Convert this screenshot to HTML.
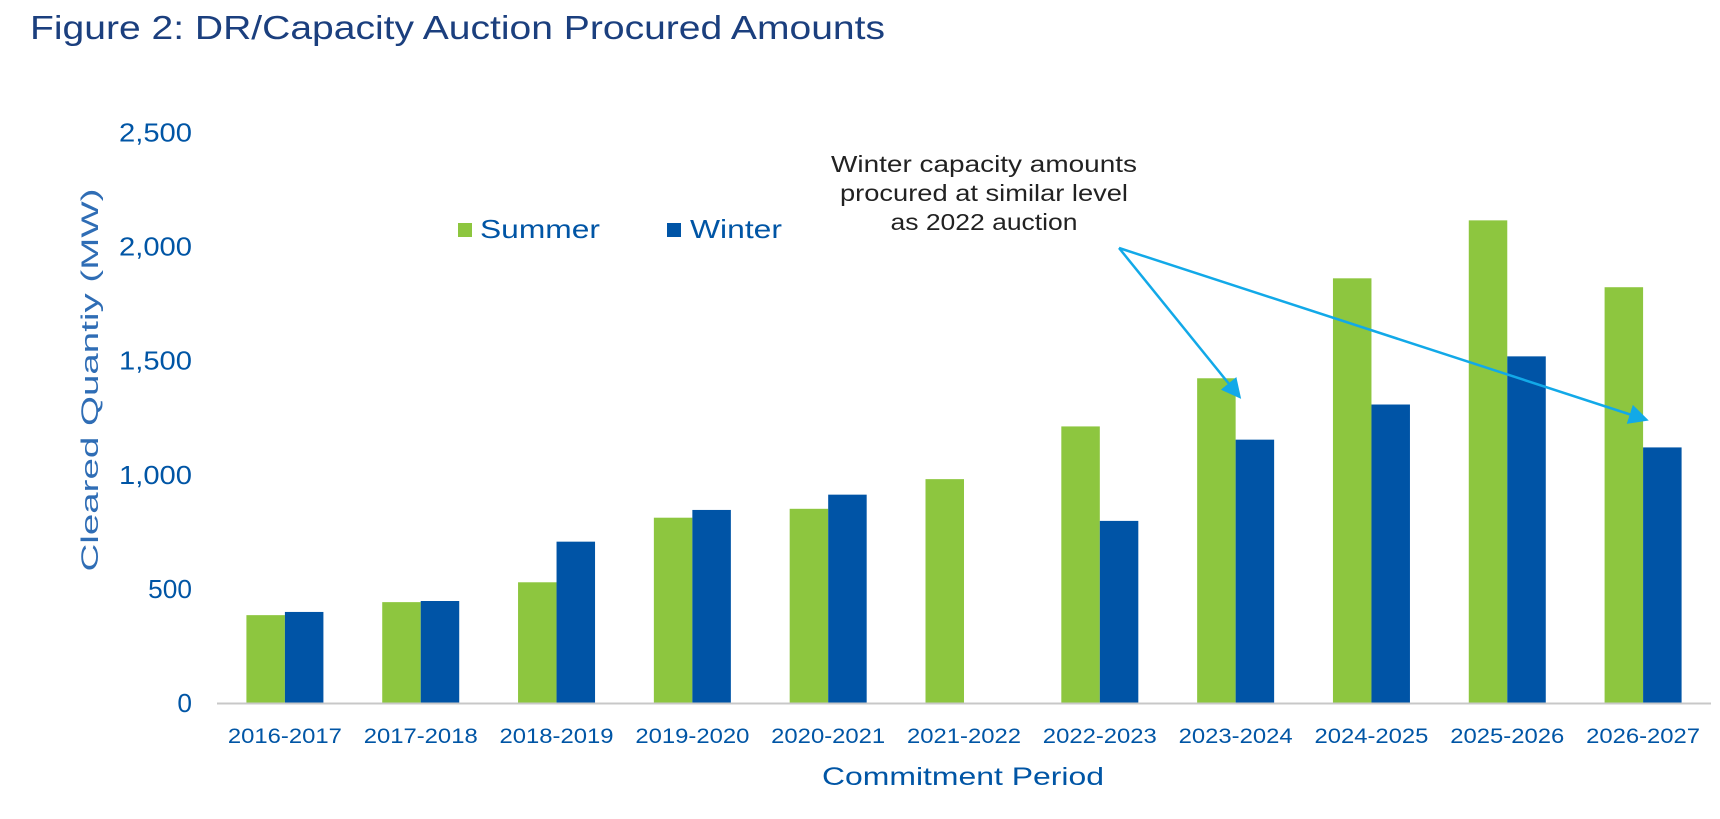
<!DOCTYPE html>
<html><head><meta charset="utf-8"><style>
body{margin:0;background:#fff;width:1720px;height:814px;overflow:hidden;font-family:"Liberation Sans",sans-serif}
</style></head><body>
<svg width="1720" height="814" font-family="Liberation Sans, sans-serif">
<text x="30" y="39" font-size="33" fill="#1b3f7e" textLength="855" lengthAdjust="spacingAndGlyphs">Figure 2: DR/Capacity Auction Procured Amounts</text>
<g id="yticks"></g><g id="bars"></g><g id="xlabels"></g>
<line x1="217" y1="703.5" x2="1711" y2="703.5" stroke="#c8c8c8" stroke-width="2"/>
<text transform="translate(98,380) rotate(-90)" text-anchor="middle" font-size="24" fill="#2f6db5" textLength="383" lengthAdjust="spacingAndGlyphs">Cleared Quantiy (MW)</text>
<text x="963" y="785" text-anchor="middle" font-size="25" fill="#0055a5" textLength="282" lengthAdjust="spacingAndGlyphs">Commitment Period</text>
<g>
<rect x="458" y="223" width="14" height="14" fill="#8dc63f"/>
<text x="480" y="238" font-size="26" fill="#0055a5" textLength="120" lengthAdjust="spacingAndGlyphs">Summer</text>
<rect x="667" y="223" width="14" height="14" fill="#0054a6"/>
<text x="690" y="238" font-size="26" fill="#0055a5" textLength="92" lengthAdjust="spacingAndGlyphs">Winter</text>
</g>
<g font-size="23" fill="#222" text-anchor="middle">
<text x="984" y="172" textLength="306" lengthAdjust="spacingAndGlyphs">Winter capacity amounts</text>
<text x="984" y="201" textLength="288" lengthAdjust="spacingAndGlyphs">procured at similar level</text>
<text x="984" y="230" textLength="187" lengthAdjust="spacingAndGlyphs">as 2022 auction</text>
</g>
<defs><marker id="ah" markerWidth="8" markerHeight="8" refX="6" refY="4" orient="auto" markerUnits="strokeWidth"><path d="M0,0 L8,4 L0,8 z" fill="#12a9e8"/></marker></defs>
<line x1="1119" y1="248" x2="1238" y2="395" stroke="#12a9e8" stroke-width="2.5" marker-end="url(#ah)"/>
<line x1="1119" y1="248" x2="1644" y2="419" stroke="#12a9e8" stroke-width="2.5" marker-end="url(#ah)"/>
</svg>
<script>
const categories=["2016-2017","2017-2018","2018-2019","2019-2020","2020-2021","2021-2022","2022-2023","2023-2024","2024-2025","2025-2026","2026-2027"];
const summer=[385,442,529,812,851,981,1212,1423,1861,2115,1822];
const winter=[399,447,707,846,913,0,798,1154,1308,1519,1120];
const yTicks=[0,500,1000,1500,2000,2500];
const yTickLabels=["0","500","1,000","1,500","2,000","2,500"];
const NS="http://www.w3.org/2000/svg";
const x0=217,x1=1711,yBase=703,pxPer=114.1/500;
const bw=(x1-x0)/categories.length, barW=38.5;
const y=v=>yBase-v*pxPer;
function mk(t,a,p){const e=document.createElementNS(NS,t);for(const k in a)e.setAttribute(k,a[k]);p.appendChild(e);return e;}
const yt=document.getElementById('yticks');
yTicks.forEach((v,i)=>{const L=yTickLabels[i];const t=mk('text',{x:192,y:y(v)+9,'text-anchor':'end','font-size':'26',fill:'#0055a5',textLength:L.length*14.6,lengthAdjust:'spacingAndGlyphs'},yt);t.textContent=L;

});
const bg=document.getElementById('bars'),xl=document.getElementById('xlabels');
categories.forEach((c,i)=>{const cx=x0+bw*(i+0.5);
const s=mk('rect',{x:cx-barW,y:y(summer[i]),width:barW,height:summer[i]*pxPer,fill:'#8dc63f'},bg);


const w=mk('rect',{x:cx,y:y(winter[i]),width:barW,height:winter[i]*pxPer,fill:'#0054a6'},bg);


const t=mk('text',{x:cx,y:743,'text-anchor':'middle','font-size':'21',fill:'#0055a5',textLength:114,lengthAdjust:'spacingAndGlyphs'},xl);t.textContent=c;

});
</script>
</body></html>
